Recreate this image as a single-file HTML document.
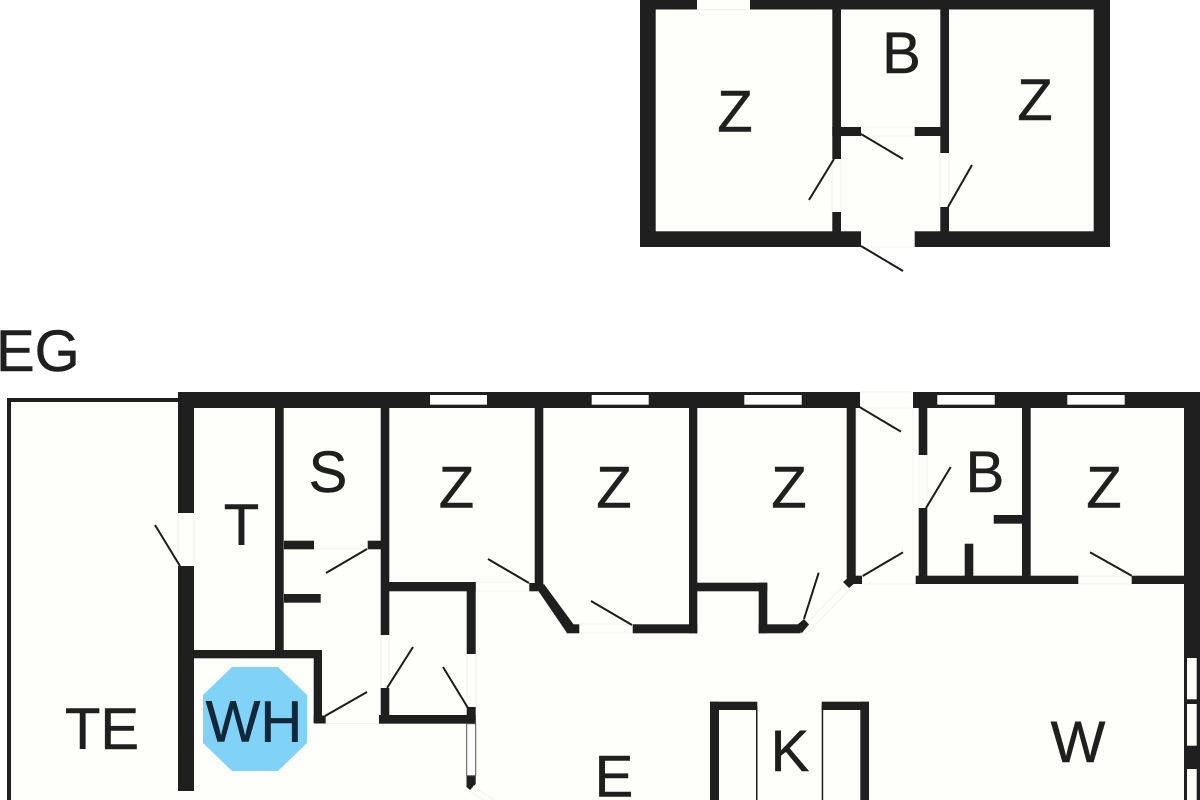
<!DOCTYPE html>
<html>
<head>
<meta charset="utf-8">
<style>
html,body{margin:0;padding:0;background:#fff;width:1200px;height:800px;overflow:hidden}
svg{display:block}
text{font-family:"Liberation Sans",sans-serif;font-size:58px;fill:#1f1f1f;stroke:#1f1f1f;stroke-width:.5;text-anchor:middle}
.d{stroke:#1b1b1b;stroke-width:2;fill:none}
.g{stroke:#f2f2ee;stroke-width:1;fill:none}
</style>
</head>
<body>
<svg width="1200" height="800" viewBox="0 0 1200 800" xmlns="http://www.w3.org/2000/svg">
<rect width="1200" height="800" fill="#fff"/>

<!-- floors -->
<rect x="640" y="0" width="470" height="247" fill="#fefefa"/>
<rect x="7" y="398" width="1193" height="402" fill="#fefefa"/>
<rect x="7" y="398" width="171" height="4" fill="#1f1f1f"/>
<rect x="7" y="398" width="4" height="402" fill="#1f1f1f"/>
<rect x="860" y="392" width="53" height="16" fill="#fefefa"/>

<!-- opening hairlines -->
<path class="g" d="M841 127H915M841 136H915M861 247H915M697 9.5H750M841 159V212M832 159V212M940 153V207M949 153V207M194 513V566M178 513V566M284 549H368M326 723.5H379M381 635V688M389 635V688M467 654V707M476 654V707M476 582H529M476 591H529M579 624H633M579 633H633M802 628L846 583M808 632L851 588M862 584H916M1078 584H1132M1078 576H1132M919 455V508M927 455V508M860 408H913M860 392H913M856 408V576M913 408V576"/>

<g fill="#1f1f1f">
<!-- upper building -->
<rect x="640" y="0" width="57" height="9.5"/>
<rect x="750" y="0" width="360" height="9.5"/>
<rect x="640" y="0" width="15.7" height="247"/>
<rect x="1093.7" y="0" width="16.3" height="247"/>
<rect x="640" y="231.3" width="221" height="15.7"/>
<rect x="914.7" y="231.3" width="195.3" height="15.7"/>
<rect x="832.3" y="9" width="8.7" height="150"/>
<rect x="832.3" y="212" width="8.7" height="20"/>
<rect x="940.3" y="9" width="8.7" height="144"/>
<rect x="940.3" y="207" width="8.7" height="25"/>
<rect x="832.3" y="127" width="28.7" height="9"/>
<rect x="914.7" y="127" width="34.3" height="9"/>

<!-- lower building: top wall -->
<rect x="178" y="392" width="682" height="16"/>
<rect x="913" y="392" width="287" height="16"/>
<!-- left wall -->
<rect x="178" y="392" width="16" height="121"/>
<rect x="178" y="566" width="16" height="225"/>
<!-- right wall -->
<rect x="1184" y="392" width="16" height="408"/>

<!-- T / S / WH -->
<rect x="275" y="408" width="8.7" height="242"/>
<rect x="194" y="650" width="128" height="8.3"/>
<rect x="313.7" y="650" width="8.3" height="73"/>
<rect x="313.7" y="715.5" width="12" height="8"/>
<rect x="284" y="540.7" width="30" height="8.6"/>
<rect x="284" y="594" width="36.7" height="8.7"/>
<rect x="380.7" y="408" width="8.6" height="227"/>
<rect x="380.7" y="688" width="8.6" height="30"/>
<rect x="367.7" y="540.7" width="14" height="8.6"/>
<rect x="379" y="715" width="96.7" height="8.7"/>
<rect x="389" y="582" width="86.7" height="9.3"/>
<rect x="466.7" y="582" width="9" height="72"/>
<rect x="466.7" y="707" width="9" height="16.7"/>

<!-- Z / Z -->
<rect x="534.7" y="408" width="8.6" height="177"/>
<rect x="529.3" y="583" width="13" height="8.3"/>
<polygon points="537,589 544,584 574,625 567,633"/>
<rect x="566.7" y="624.3" width="12.6" height="9"/>
<rect x="632.7" y="624.3" width="64.6" height="9"/>
<rect x="689" y="408" width="8.3" height="225.3"/>
<rect x="697" y="582.7" width="70.3" height="8.6"/>
<rect x="758.7" y="582.7" width="8.6" height="50.6"/>
<rect x="758.7" y="624.3" width="42" height="9"/>
<polygon points="797,625 804,619 809,624.5 801.7,633.3"/>
<rect x="846.7" y="408" width="9" height="169"/>
<rect x="846.7" y="575.7" width="15.3" height="8.3"/>
<polygon points="843,582 850,576 856,582 849,588"/>

<!-- B / Z -->
<rect x="918.7" y="392" width="8.6" height="63"/>
<rect x="918.7" y="508" width="8.6" height="70"/>
<rect x="915.7" y="575.7" width="162.6" height="8.3"/>
<rect x="1131.7" y="575.7" width="52.3" height="8.3"/>
<rect x="1022" y="408" width="8.7" height="170"/>
<rect x="993.7" y="515" width="28.3" height="8.7"/>
<rect x="964.7" y="543.7" width="8.6" height="33"/>

<!-- kitchen -->
<rect x="710" y="701.7" width="47.3" height="8.3"/>
<rect x="710" y="701.7" width="9" height="98.3"/>
<rect x="756" y="706" width="1.5" height="94"/>
<rect x="821.7" y="701.7" width="47.3" height="8.3"/>
<rect x="860.3" y="701.7" width="8.7" height="98.3"/>
<rect x="821.7" y="706" width="1.5" height="94"/>

<!-- bottom sliding element end -->
<polygon points="466.5,775 475.7,775 475.7,784 470,790 466.5,787"/>
</g>

<!-- thin sliding wall -->
<rect x="466.7" y="723.7" width="9" height="52" fill="#fff" stroke="#555" stroke-width="1"/>
<path class="g" d="M473 786 L494 800 M468 790 L484 800"/>

<!-- windows -->
<g fill="#fff">
<rect x="430" y="395" width="57" height="9.7"/>
<rect x="591.7" y="395" width="57" height="9.7"/>
<rect x="744.3" y="395" width="57.4" height="9.7"/>
<rect x="937.3" y="395" width="57.4" height="9.7"/>
<rect x="1067.3" y="395" width="57.4" height="9.7"/>
<rect x="1187" y="658" width="9.7" height="41.3" fill="#fefefa"/>
<rect x="1187" y="704" width="9.7" height="41.7" fill="#fefefa"/>
<rect x="1187" y="769" width="9.7" height="31" fill="#fefefa"/>
</g>

<!-- door leaves -->
<path class="d" d="M861 134L903 159M834 159L809 200M948 207L972 165M861 246L903 271
M180 566L155 525M325 716L367 692M367 549L326 573M387 688L413 647M468 708L443 667
M529 583L488 559M632 625L591 601M804 619L818.7 572.7M862.7 576L903 552.3M859 406.7L901 431.7
M926 508L950.7 467M1131.7 575.7L1090 552.3"/>

<!-- water heater -->
<polygon points="232,667 278,667 307,695 307,743 278,771 232,771 203,743 203,695" fill="#80d2f6"/>

<!-- labels -->
<text x="-4" y="371" style="text-anchor:start">EG</text>
<text x="735" y="131.5">Z</text>
<text x="901.5" y="73">B</text>
<text x="1035" y="120">Z</text>
<text x="241.5" y="545">T</text>
<text x="328" y="492">S</text>
<text x="102" y="749">TE</text>
<text x="254" y="741.5" style="fill:#12283a;stroke:#12283a">WH</text>
<text x="456.5" y="507.5">Z</text>
<text x="614" y="507.5">Z</text>
<text x="789" y="507.5">Z</text>
<text x="985" y="492">B</text>
<text x="1104" y="507.5">Z</text>
<text x="790" y="771">K</text>
<text x="1078" y="762">W</text>
<text x="614" y="796.5">E</text>
</svg>
</body>
</html>
